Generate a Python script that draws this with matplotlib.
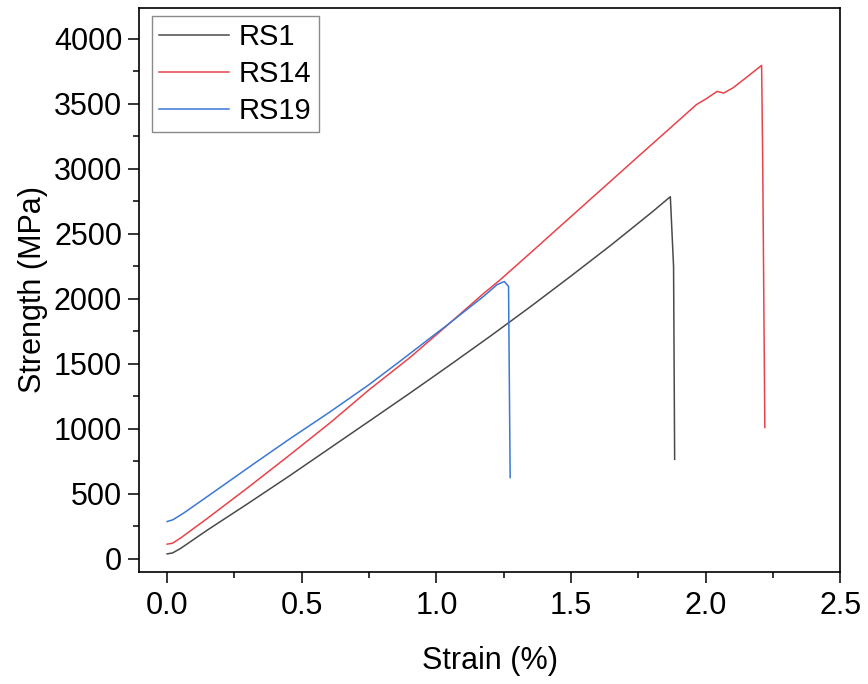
import numpy as np
import matplotlib
matplotlib.use("Agg")
import matplotlib.pyplot as plt
from matplotlib.ticker import MultipleLocator, FormatStrFormatter

plt.rcParams['font.family'] = ['Liberation Sans', 'DejaVu Sans']

# RS1 (gris)
strain_rs1 = [0.0, 0.02, 0.05, 0.15, 0.30, 0.45, 0.60, 0.75, 0.90, 1.05, 1.20, 1.35, 1.50, 1.65, 1.80, 1.869, 1.881, 1.885]
stress_rs1 = [38, 45, 80, 222, 425, 632, 845, 1058, 1272, 1490, 1712, 1940, 2175, 2415, 2665, 2785, 2248, 765]

# RS14 (rojo)
strain_rs14 = [0.0, 0.02, 0.05, 0.15, 0.30, 0.45, 0.607, 0.75, 0.90, 1.04, 1.175, 1.237, 1.348, 1.50, 1.607, 1.75, 1.896,
               1.965, 2.002, 2.043, 2.067, 2.101, 2.15, 2.208, 2.212, 2.22]
stress_rs14 = [113, 120, 160, 312, 548, 790, 1049, 1300, 1545, 1795, 2040, 2146, 2350, 2632, 2830, 3095, 3364,
               3492, 3538, 3595, 3582, 3621, 3700, 3795, 3080, 1010]

# RS19 (azul)
strain_rs19 = [0.0, 0.021, 0.06, 0.15, 0.311, 0.45, 0.607, 0.75, 0.867, 0.978, 1.04, 1.175, 1.225, 1.252, 1.268, 1.274]
stress_rs19 = [287, 300, 350, 480, 715, 915, 1133, 1340, 1523, 1700, 1798, 2018, 2108, 2133, 2095, 625]

fig = plt.figure(figsize=(8.68, 6.84), dpi=100)
ax = fig.add_axes([0.160, 0.164, 0.808, 0.825])

ax.plot(strain_rs1, stress_rs1, color='#4a4a4a', lw=1.1, label='RS1')
ax.plot(strain_rs14, stress_rs14, color='#e8434a', lw=1.1, label='RS14')
ax.plot(strain_rs19, stress_rs19, color='#3a78d6', lw=1.1, label='RS19')

ax.set_xlim(-0.105, 2.5)
ax.set_ylim(-100, 4240)

ax.xaxis.set_major_locator(MultipleLocator(0.5))
ax.xaxis.set_minor_locator(MultipleLocator(0.25))
ax.xaxis.set_major_formatter(FormatStrFormatter('%.1f'))
ax.yaxis.set_major_locator(MultipleLocator(500))
ax.yaxis.set_minor_locator(MultipleLocator(250))

ax.tick_params(which='major', direction='out', length=8, width=1.1, labelsize=22, pad=6)
ax.tick_params(which='minor', direction='out', length=4.5, width=1.1)
ax.tick_params(axis='y', which='major', pad=4)
for s in ax.spines.values():
    s.set_linewidth(1.2)

ax.set_xlabel('Strain (%)', fontsize=22, labelpad=18)
ax.set_ylabel('Strength (MPa)', fontsize=22, labelpad=4)

leg = ax.legend(loc='upper left', bbox_to_anchor=(0.018, 0.985), borderaxespad=0,
                fontsize=21, frameon=True, fancybox=False, framealpha=1,
                handlelength=2.4, handletextpad=0.35, labelspacing=0.3, borderpad=0.25)
leg.get_frame().set_edgecolor('#8a8a8a')
leg.get_frame().set_linewidth(1.0)

plt.savefig('out.png', dpi=100)
